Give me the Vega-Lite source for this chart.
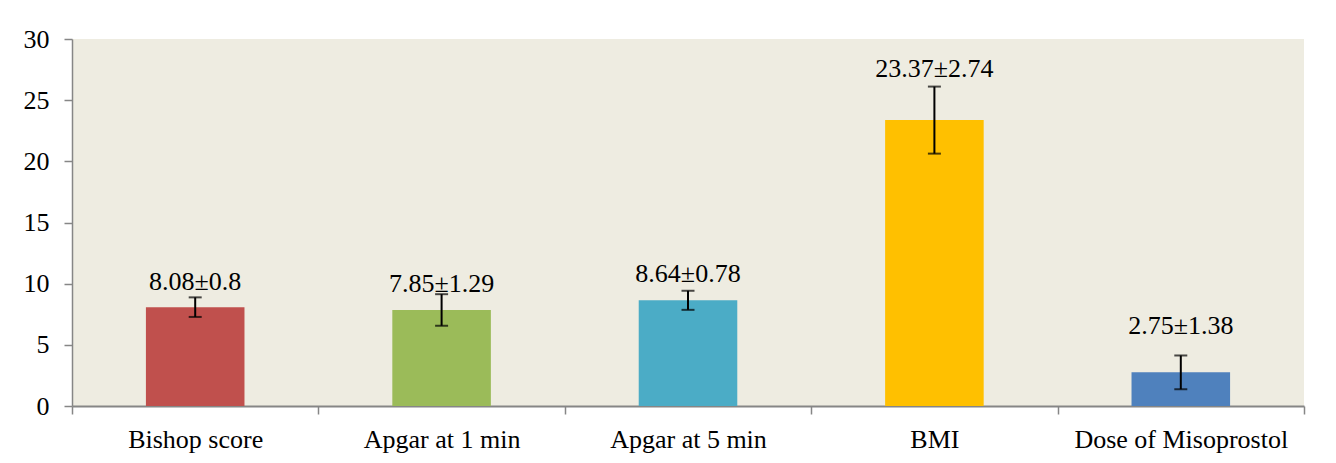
{
  "$schema": "https://vega.github.io/schema/vega-lite/v6.json",
  "width": 1232,
  "height": 367,
  "autosize": {"type": "none"},
  "padding": {"left": 72, "top": 39, "right": 32, "bottom": 57},
  "background": "white",
  "config": {
    "view": {"fill": "#EEECE1", "stroke": null},
    "font": "Liberation Serif",
    "text": {"font": "Liberation Serif", "fontSize": 26, "color": "black", "baseline": "alphabetic"},
    "axis": {
      "labelFont": "Liberation Serif",
      "labelFontSize": 26,
      "labelColor": "black",
      "labelLimit": 400,
      "domainColor": "#868686",
      "domainWidth": 1.5,
      "tickColor": "#868686",
      "tickWidth": 1.5,
      "tickSize": 8,
      "grid": false,
      "title": null
    }
  },
  "data": {
    "values": [
      {"category": "Bishop score", "mean": 8.08, "sd": 0.8, "lo": 7.28, "hi": 8.88, "label": "8.08±0.8"},
      {"category": "Apgar at 1 min", "mean": 7.85, "sd": 1.29, "lo": 6.56, "hi": 9.14, "label": "7.85±1.29"},
      {"category": "Apgar at 5 min", "mean": 8.64, "sd": 0.78, "lo": 7.86, "hi": 9.42, "label": "8.64±0.78"},
      {"category": "BMI", "mean": 23.37, "sd": 2.74, "lo": 20.63, "hi": 26.11, "label": "23.37±2.74"},
      {"category": "Dose of Misoprostol", "mean": 2.75, "sd": 1.38, "lo": 1.37, "hi": 4.13, "label": "2.75±1.38"}
    ]
  },
  "encoding": {
    "x": {
      "field": "category",
      "type": "nominal",
      "sort": null,
      "scale": {"paddingInner": 0, "paddingOuter": 0},
      "axis": {"labelAngle": 0, "tickBand": "extent", "labelPadding": 12, "domainWidth": 2}
    }
  },
  "layer": [
    {
      "mark": {"type": "bar", "width": {"band": 0.4}},
      "encoding": {
        "y": {
          "field": "mean",
          "type": "quantitative",
          "scale": {"domain": [0, 30], "nice": false},
          "axis": {"values": [0, 5, 10, 15, 20, 25, 30], "labelPadding": 15}
        },
        "color": {
          "field": "category",
          "type": "nominal",
          "sort": null,
          "scale": {
            "domain": ["Bishop score", "Apgar at 1 min", "Apgar at 5 min", "BMI", "Dose of Misoprostol"],
            "range": ["#C0504D", "#9BBB59", "#4BACC6", "#FFC000", "#4F81BD"]
          },
          "legend": null
        }
      }
    },
    {
      "mark": {"type": "rule", "color": "black", "strokeWidth": 2},
      "encoding": {
        "y": {"field": "lo", "type": "quantitative"},
        "y2": {"field": "hi"}
      }
    },
    {
      "mark": {"type": "tick", "color": "black", "orient": "horizontal", "size": 13, "thickness": 2},
      "encoding": {"y": {"field": "lo", "type": "quantitative"}}
    },
    {
      "mark": {"type": "tick", "color": "black", "orient": "horizontal", "size": 13, "thickness": 2},
      "encoding": {"y": {"field": "hi", "type": "quantitative"}}
    },
    {
      "transform": [{"filter": "datum.category === 'Bishop score'"}],
      "mark": {"type": "text", "dy": -7},
      "encoding": {"y": {"field": "hi", "type": "quantitative"}, "text": {"field": "label"}}
    },
    {
      "transform": [{"filter": "datum.category === 'Apgar at 1 min'"}],
      "mark": {"type": "text", "dy": -2},
      "encoding": {"y": {"field": "hi", "type": "quantitative"}, "text": {"field": "label"}}
    },
    {
      "transform": [{"filter": "datum.category === 'Apgar at 5 min'"}],
      "mark": {"type": "text", "dy": -9},
      "encoding": {"y": {"field": "hi", "type": "quantitative"}, "text": {"field": "label"}}
    },
    {
      "transform": [{"filter": "datum.category === 'BMI'"}],
      "mark": {"type": "text", "dy": -10},
      "encoding": {"y": {"field": "hi", "type": "quantitative"}, "text": {"field": "label"}}
    },
    {
      "transform": [{"filter": "datum.category === 'Dose of Misoprostol'"}],
      "mark": {"type": "text", "dy": -21},
      "encoding": {"y": {"field": "hi", "type": "quantitative"}, "text": {"field": "label"}}
    }
  ]
}
